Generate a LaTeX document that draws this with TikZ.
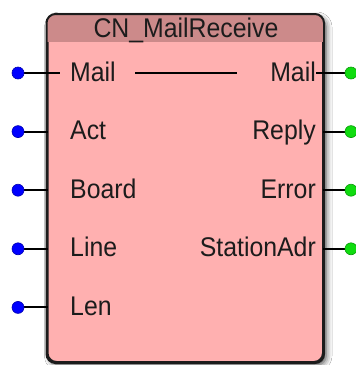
\documentclass[tikz,border=0pt]{standalone}
\usepackage{fontspec}
\setmainfont{Liberation Sans}
\usetikzlibrary{shadows.blur}

\definecolor{bodypink}{RGB}{255,176,176}
\definecolor{headpink}{RGB}{204,138,138}
\definecolor{edgecol}{RGB}{28,28,28}
\definecolor{inblue}{RGB}{0,0,255}
\definecolor{outgreen}{RGB}{16,220,16}

\newcommand\narrowtxt[1]{\scalebox{0.92}[1]{#1}}

\tikzset{
  fbox/.style={draw=edgecol, line width=2pt, fill=bodypink, rounded corners=9pt,
    minimum width=275.5pt, minimum height=347pt, inner sep=0pt,
    blur shadow={shadow xshift=3pt, shadow yshift=-3pt, shadow blur radius=6pt, shadow opacity=75}},
  pinlbl/.style={font=\fontsize{27}{30}\selectfont, text=edgecol, inner sep=0pt},
  inlbl/.style={pinlbl, anchor=base west},
  outlbl/.style={pinlbl, anchor=base east},
  ttl/.style={pinlbl, anchor=base},
  indot/.style={circle, fill=inblue, draw=inblue!70!black, line width=0.6pt, minimum size=12pt, inner sep=0pt},
  outdot/.style={circle, fill=outgreen, draw=outgreen!70!black, line width=0.6pt, minimum size=12pt, inner sep=0pt},
  wire/.style={draw=black, line width=2pt},
}

\begin{document}
\begin{tikzpicture}[x=1pt, y=-1pt]
  \useasboundingbox[fill=white] (0,0) rectangle (356,365);

  % function block body
  \node[fbox] (blk) at (185.25,188.5) {};

  % title band
  \begin{scope}
    \clip[rounded corners=9pt] (blk.north west) rectangle (blk.south east);
    \fill[headpink] (blk.north west) rectangle (323,42);
  \end{scope}
  \draw[draw=edgecol, line width=2pt, rounded corners=9pt] (blk.north west) rectangle (blk.south east);

  \node[ttl] (title) at (186,37) {\narrowtxt{CN\_MailReceive}};

  % inputs
  \foreach \n/\lab [count=\k from 0] in {i1/Mail, i2/Act, i3/Board, i4/Line, i5/Len} {
    \pgfmathsetmacro\yy{73+58.6*\k}
    \draw[wire] (18,\yy) -- (47.5,\yy);
    \node[indot] (\n) at (18,\yy) {};
    \node[inlbl] (\n l) at (70,\yy+8) {\narrowtxt{\lab}};
  }

  % outputs
  \foreach \n/\lab [count=\k from 0] in {o1/Mail, o2/Reply, o3/Error, o4/StationAdr} {
    \pgfmathsetmacro\yy{73+58.6*\k}
    \draw[wire] (323,\yy) -- (351,\yy);
    \node[outdot] (\n) at (351,\yy) {};
    \node[outlbl] (\n l) at (316,\yy+8) {\narrowtxt{\lab}};
  }

  % pass-through of the in/out variable Mail
  \coordinate (m0) at (60,73);
  \coordinate (m1) at (135,73);
  \coordinate (m2) at (237,73);
  \coordinate (m3) at (316,73);
  \draw[wire] (i1 -| blk.west) -- (m0);
  \draw[wire] (m1) -- (m2);
  \draw[wire] (m3) -- (o1 -| blk.east);
\end{tikzpicture}
\end{document}
